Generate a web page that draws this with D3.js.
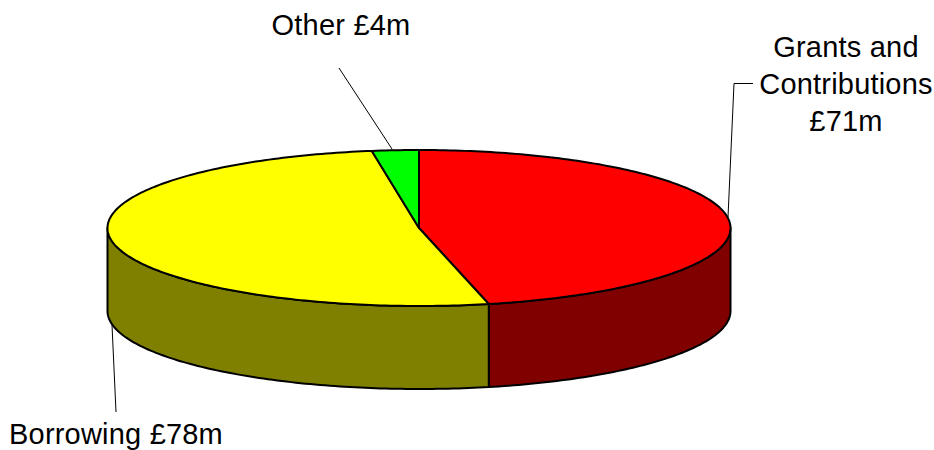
<!DOCTYPE html>
<html>
<head>
<meta charset="utf-8">
<script src="https://cdn.jsdelivr.net/npm/d3@7"></script>
<style>
  html, body { margin: 0; padding: 0; background: #fff; }
  svg { display: block; }
  text { font-family: "Liberation Sans", Arial, sans-serif; font-size: 29px; letter-spacing: 0.2px; fill: #000; }
</style>
</head>
<body>
<script>
// values in millions, clockwise from 12 o'clock (unrounded)
const categories = ["Grants and Contributions", "Borrowing", "Other"];
const values = [71, 78.3, 3.7];
const topColours = ["#ff0000", "#ffff00", "#00ff00"];
const wallColours = ["#800000", "#808000", "#008000"];

const labelLines = [
    ["Grants and", "Contributions", "£71m"],
    ["Borrowing £78m"],
    ["Other £4m"]
];

const width = 934, height = 450;
const cx = 419, cy = 228, rx = 311.5, ry = 78, depth = 83;

const svg = d3.select("body").append("svg")
    .attr("width", width)
    .attr("height", height);

// unit circle -> squashed ellipse
const xScale = d3.scaleLinear().domain([-1, 1]).range([cx - rx, cx + rx]);
const yScale = d3.scaleLinear().domain([-1, 1]).range([cy - ry, cy + ry]);

const pie = d3.pie().sort(null).value(d => d);
const arcs = pie(values);

const px = a => xScale(Math.sin(a));
const py = a => yScale(-Math.cos(a));

const line = d3.line().x(d => d[0]).y(d => d[1]);

function rim(a0, a1, dy) {
    const n = Math.max(2, Math.ceil(Math.abs(a1 - a0) * 60));
    return d3.range(n + 1).map(i => {
        const a = a0 + (a1 - a0) * i / n;
        return [px(a), py(a) + dy];
    });
}

// walls: only the part of each slice facing the viewer (90deg to 270deg)
const wallStart = Math.PI / 2, wallEnd = 3 * Math.PI / 2;
arcs.forEach((d, i) => {
    const a0 = Math.max(d.startAngle, wallStart);
    const a1 = Math.min(d.endAngle, wallEnd);
    if (a1 <= a0) return;
    const pts = rim(a0, a1, 0).concat(rim(a1, a0, depth));
    svg.append("path")
        .attr("d", line(pts) + "Z")
        .attr("fill", wallColours[i])
        .attr("stroke", "#000")
        .attr("stroke-width", 2)
        .attr("stroke-linejoin", "round");
});

// top face
arcs.forEach((d, i) => {
    const pts = [[xScale(0), yScale(0)]].concat(rim(d.startAngle, d.endAngle, 0));
    svg.append("path")
        .attr("d", line(pts) + "Z")
        .attr("fill", topColours[i])
        .attr("stroke", "#000")
        .attr("stroke-width", 2)
        .attr("stroke-linejoin", "round");
});

// leader lines
const leaders = [
    [[753, 83.5], [734, 83.5], [728, 217]],
    [[112, 325], [116, 412]],
    [[339, 68], [392, 149]]
];
leaders.forEach(l => {
    svg.append("path")
        .attr("d", line(l))
        .attr("fill", "none")
        .attr("stroke", "#000")
        .attr("stroke-width", 1);
});

// labels
const labelPos = [
    { x: 846, y: 57, dy: 37 },
    { x: 116, y: 443.5, dy: 0 },
    { x: 341, y: 35, dy: 0 }
];
labelLines.forEach((lines, i) => {
    lines.forEach((t, j) => {
        svg.append("text")
            .attr("x", labelPos[i].x)
            .attr("y", labelPos[i].y + j * labelPos[i].dy)
            .attr("text-anchor", "middle")
            .text(t);
    });
});
</script>
</body>
</html>
